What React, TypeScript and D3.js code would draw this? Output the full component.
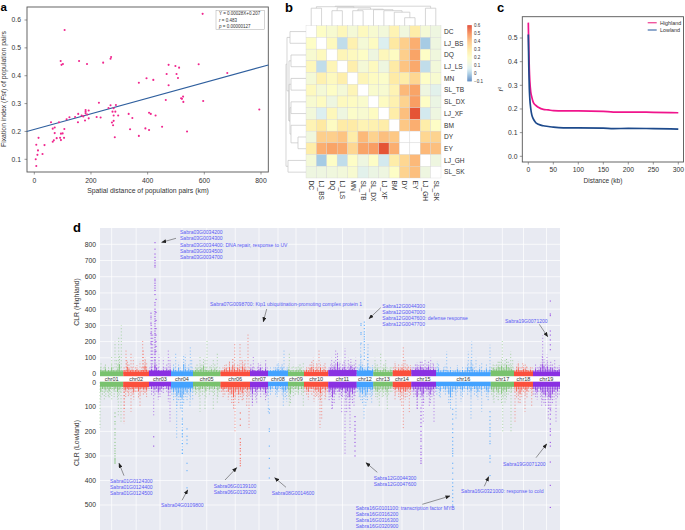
import React from "react";
import * as d3 from "d3";

const FONT = "'Liberation Sans', Arial, sans-serif";

// ---------- panel a ----------
const distanceKm = [594,107,93,96,101,158,186,243,271,269,474,498,511,580,681,502,467,507,396,420,369,474,464,518,521,525,526,596,794,228,269,288,262,280,276,286,181,192,181,155,187,181,280,296,333,346,405,411,428,167,173,144,124,114,220,234,192,179,154,59,87,280,274,278,451,392,405,338,369,539,284,65,72,106,72,94,100,79,91,105,94,65,69,15,36,7,13,29,11,5,7];
const fstValues = [.622,.564,.453,.439,.442,.453,.442,.447,.467,.461,.439,.435,.429,.441,.41,.406,.406,.392,.391,.385,.375,.366,.313,.319,.317,.325,.306,.309,.279,.303,.294,.295,.284,.283,.271,.271,.277,.275,.271,.263,.261,.265,.257,.257,.263,.248,.267,.263,.257,.257,.254,.252,.251,.244,.252,.25,.247,.239,.233,.233,.233,.238,.232,.222,.217,.211,.205,.208,.184,.2,.179,.21,.214,.209,.194,.192,.193,.176,.177,.177,.169,.163,.168,.177,.151,.152,.132,.119,.116,.1,.076];
const fitLineX = [-27, 826];
const fitLineY = [0.2, 0.4385];
const aXTicks = [0, 200, 400, 600, 800];
const aYTicks = [0.1, 0.2, 0.3, 0.4, 0.5, 0.6];

// ---------- panel b ----------
const popLabels = ["DC","LJ_BS","DQ","LJ_LS","MN","SL_TB","SL_DX","LJ_XF","BM","DY","EY","LJ_GH","SL_SK"];
const N = NaN;
const fstMatrix = [
  [N,.2,.17,.23,.15,.22,.17,.14,.25,.13,.28,.15,.12],
  [.2,N,.22,.03,.26,.15,.21,.06,.3,.37,.44,0,.12],
  [.17,.22,N,.24,.22,.2,.12,.23,.21,.37,.46,.2,.13],
  [.23,.03,.24,N,.27,.15,.22,.12,.29,.4,.45,.03,.14],
  [.15,.26,.22,.27,N,.24,.21,.19,.29,.28,.35,.2,.17],
  [.22,.15,.2,.15,.24,N,.18,.17,.25,.42,.46,.12,.08],
  [.17,.21,.12,.22,.21,.18,N,.21,.26,.36,.47,.2,.11],
  [.14,.06,.23,.12,.19,.17,.21,N,.28,.41,.58,.05,.12],
  [.25,.3,.21,.29,.29,.25,.26,.28,N,.39,.44,.28,.2],
  [.13,.37,.37,.4,.28,.42,.36,.41,.39,N,N,.35,.36],
  [.28,.44,.46,.45,.35,.46,.47,.58,.44,N,N,.42,.41],
  [.15,0,.2,.03,.2,.12,.2,.05,.28,.35,.42,N,.12],
  [.12,.12,.13,.14,.17,.08,.11,.12,.2,.36,.41,.12,N],
];
const legendTicks = [-0.1, 0, 0.1, 0.2, 0.3, 0.4, 0.5, 0.6];
const colorStops = [-0.1, 0, 0.06, 0.12, 0.2, 0.3, 0.4, 0.5, 0.6];
const colorRamp = ["#4f7fbd","#a6cbe4","#dceff0","#eef6e0","#fdfdc6","#fee9a2","#fdc482","#f78e55","#e0452d"];
// merges: [left node, right node, height]; nodes 0-12 are leaves, later ones are earlier merges
const colMerges = [[9,10,8],[8,13,13.5],[7,14,15],[6,15,16],[4,5,15],[2,3,15],[17,16,16.5],[18,19,18],[11,12,17.5],[0,1,17.5],[22,20,19],[23,21,19.5]];
const rowMerges = [[9,10,8],[8,13,15],[6,7,15],[4,5,15],[2,3,15],[15,14,16],[16,18,17],[17,18,17],[0,1,16],[11,12,18],[21,20,19],[23,22,20]];

// ---------- panel c ----------
const ldDistance = [0,1,2,3,5,7,10,15,20,30,40,50,70,100,150,170,200,250,300];
const ldHighland = [.565,.45,.37,.32,.27,.25,.228,.215,.207,.198,.196,.193,.192,.192,.19,.187,.187,.186,.184];
const ldLowland = [.515,.38,.29,.245,.2,.175,.158,.142,.135,.129,.126,.123,.12,.12,.119,.117,.118,.117,.115];
const cXTicks = [0, 50, 100, 150, 200, 250, 300];
const cYTicks = [0, 0.1, 0.2, 0.3, 0.4, 0.5];

// ---------- panel d ----------
const chrNames = ["chr01","chr02","chr03","chr04","chr05","chr06","chr07","chr08","chr09","chr10","chr11","chr12","chr13","chr14","chr15","chr16","chr17","chr18","chr19"];
const chrLengths = [23.3,25.7,22,22,27.5,29.5,18,20,16,24.3,28.4,16.6,19.4,18.6,24.7,54.7,23.3,19,27];
const chrColors = ["#79c26e","#fb4f3c","#8a30e2","#43a2ff"];
const upperTicks = [0,100,200,300,400,500,600,700,800];
const lowerTicks = [0,100,200,300,400,500];
const highBand = [16,14,20,16,14,14,18,18,13,13,24,20,12,20,24,11,20,15,15];
const lowBand = [18,20,16,22,16,20,20,15,15,18,22,20,16,20,18,15,18,18,18];
const highProfile = [
  [50,35,40,60,30,45,35,70,45,30,35,60,110,40,30],
  [45,30,80,60,35,50,30,45,55,35,30,45,40,90,50,35],
  [40,55,30,100,70,45,30,35,50,40,60,35,55],
  [35,60,45,30,70,40,35,110,55,40,60,35,45],
  [35,45,60,40,55,65,90,50,45,35,40,55,35,60,45,30,40],
  [30,40,55,65,40,75,50,95,60,45,70,55,40,85,60,50,35,45],
  [60,50,45,35,40,55,70,45,35,60,40],
  [35,40,30,45,50,60,55,40,65,45,35,50],
  [55,35,45,30,40,50,35,60,40,30],
  [35,50,40,65,80,55,45,60,40,70,45,55,40,35],
  [50,70,55,85,60,130,70,50,60,80,55,40,60,90,55,70,45],
  [45,60,90,70,55,50,65,45,40,55],
  [40,55,60,45,35,40,60,55,40,35,50,45],
  [40,55,45,60,50,70,55,40,60,45,55],
  [50,45,60,70,55,85,75,60,50,70,85,55,45,60,50],
  [40,60,35,30,50,25,40,30,45,25,35,30,55,35,25,45,30,40,70,45,80,60,40,30,35,55,40,30,35,60,30,50],
  [45,70,55,60,85,75,90,70,60,100,80,65,55,40],
  [35,50,65,45,40,55,60,45,35,50,40],
  [35,60,45,50,70,110,90,60,85,55,75,65,50,45,40,55],
];
const lowProfile = [
  [70,50,45,60,40,65,50,35,60,45,70,55,40,35],
  [40,60,45,55,35,50,70,40,45,65,50,40,55,45,60,35],
  [35,50,40,55,45,70,60,45,35,30,45,55,40],
  [55,75,60,100,80,110,120,90,60,80,50,70,45],
  [40,55,35,60,45,50,40,65,35,55,45,40,50,35,60,40],
  [45,60,50,40,70,55,85,110,70,55,90,60,80,55,45,60,50],
  [60,85,50,70,55,45,60,40,55,80,50],
  [40,55,45,30,50,60,40,35,55,70,60,45],
  [60,85,45,35,50,40,55,35,50,40],
  [40,55,70,45,50,40,60,55,70,80,50,45,60,40],
  [75,60,110,85,55,40,70,55,60,45,80,65,110,70,85,55,40],
  [40,60,75,85,60,100,75,50,60,55],
  [45,60,70,55,40,60,45,55,70,50,45,40],
  [35,55,45,60,75,50,65,70,60,45,55],
  [40,60,50,110,55,65,100,85,45,60,55,90,60,50,40],
  [50,35,65,30,45,55,40,85,110,70,45,55,40,35,50,60,45,30,55,40,65,35,50,45,70,40,55,30,45,60,75,40],
  [55,70,45,60,75,50,85,65,55,70,50,45,40,35],
  [40,65,50,85,60,40,55,65,40,35,50],
  [50,60,70,45,60,75,90,100,70,110,120,85,70,55,65,50],
];
const highStems = [
  [1,65],[5,50],[11.7,110],[15,200],[16.7,100],[18.7,235],[21.3,300],[26,155],[26.7,85],[31,135],[33.3,100],[40,80],[42.7,215],[43.3,150],[45.3,100],[46.7,70],
  [51,375],[51.7,300],[52.7,250],[54.5,110],[55.5,110],[59,120],[63.3,100],[68.3,155],[70,100],[75.7,130],[85.3,120],[90.3,175],[91.7,90],[100,110],[105,100],[107,215],[110,60],[113.3,90],[117.3,125],
  [129.3,80],[134.7,195],[140,190],[142,100],[145,90],[148,245],[153.3,105],[158.3,70],[165.7,95],[178.3,80],[184,155],[181.7,60],[189.3,125],[193.3,60],[198.3,60],[203.3,70],[213.3,100],[219,155],[216.7,80],[225,70],
  [231.7,100],[235.7,150],[240,80],[245,160],[248.3,100],[251.7,60],[255.7,100],[260.7,190],[268,190],[267.7,130],[268.3,60],[275,100],[280.7,130],[285.7,85],[295,80],[303.3,170],[305,90],[308.3,50],[317.3,60],[325,85],[330.7,100],[333,70],
  [337.3,80],[346.7,140],[345,60],[368.3,140],[371.7,200],[371,100],[376,100],[381.7,70],[390,180],[402.3,215],[405,90],[410.7,140],[412.7,90],[416.7,60],[418.3,80],[422.7,70],[426.7,50],[440,60],[442.7,240],[447,120],[454.7,90],[459,40],
];
const highPeaks = [
  [55,[810,770,740,720,700,685,670,660,585,575,560,545,530,515,490,440,425,400,385,370,355,340,325,310,295,280,265,250,240,225,210,195,180,165,150,140,130,120]],
  [56,[460,380,330,280,240,200,170,140]],
  [51,[375,350,310,250,190]],
  [261,[310,300,255,245,190,110]],
  [264.3,[320,300,280,260,245,230,215,200,180,165,150,130,110,90]],
  [450.3,[450,370,360,265,240,210,180,150]],
];
const lowStems = [
  [0,185],[4.3,70],[8.3,60],[11.7,70],[18.3,140],[21,160],[24,170],[24.3,115],[31,120],[40,100],[28.3,60],[33.3,50],[45,50],[53.7,140],[58.3,50],[68.3,80],[70,160],[63.3,50],
  [76.7,230],[82.3,290],[90,100],[92.7,70],[100,120],[105,110],[113.3,110],[117.3,90],[96.7,50],[135,205],[149,185],[146.7,100],[130,50],[143.3,70],[152.3,100],[156.7,90],[168.3,125],[166.7,60],
  [183.3,100],[186.7,80],[176.7,50],[189.3,95],[193.3,60],[203.3,95],[198.3,50],[214,80],[220,185],[221.7,150],[225,70],[216.7,60],[231.7,110],[246.7,130],[250,200],[254,100],[241.7,60],
  [241.7,130],[245,300],[255,60],[264,150],[260,60],[271.7,90],[279.3,100],[287.3,115],[283.3,60],[295,70],[303.3,190],[309.3,130],[301.7,100],[317.3,110],[323.3,170],[334,165],[329.3,100],
  [339.3,60],[356,150],[361,80],[371,150],[381.7,120],[376.7,60],[394,90],[402.7,205],[411,200],[405,90],[398.3,50],[415,160],[418.3,90],[425,120],[431.7,100],[441.7,100],[448.3,150],[456,160],[436.7,50],
];
const lowPeaks = [
  [15,[330,325,320,315,310,300,290,280,270,258,245,230,215,205,190,170,160,140,125]],
  [53.7,[260,222]],
  [87,[430,360,330,250,235,220,190]],
  [82.3,[290,275,250,220,210,195,170,150]],
  [140.3,[340,330,320,310,295,280,270,255,245,230,175,150,125]],
  [169.3,[390,350,310,260,200,190,125,110]],
  [255,[300,280,260,245,230,215,200,190,175,160,140]],
  [321,[330,320,310,295,285,270,260,240,230,215,200,180,165,150,135,120,105]],
  [352.7,[500,485,470,455,440,425,410,395,370,350,330,300,290,280,270,255,240,225,205,190,170,150,130,110]],
  [390,[380,325,310,300,250,240,220,210,195,185,170,155,140,120]],
  [450.3,[510,420,325,260,245,215,200,190,170,150,130,110]],
];

const annotations = [
  { x: 180, y: 232.3, lines: ["Sabra03G0034200","Sabra03G0034300","Sabra03G0034400: DNA repair, response to UV","Sabra03G0034500","Sabra03G0034700"], arrow: [176,238.3,161.7,242.3] },
  { x: 210, y: 303.7, lines: ["Sabra07G0098700: Kip1 ubiquitination-promoting complex protein 1"], arrow: [266.7,309,263.3,321.7] },
  { x: 382.3, y: 306, lines: ["Sabra12G0044300","Sabra12G0047000","Sabra12G0047600: defense response","Sabra12G0047700"], arrow: [380.7,307.7,369,318.7] },
  { x: 505, y: 321, lines: ["Sabra19G0071200"], arrow: [539.3,324.3,547.7,336.7] },
  { x: 110, y: 480.7, lines: ["Sabra01G0124300","Sabra01G0124400","Sabra01G0124500"], arrow: [124,475.7,119,463.3] },
  { x: 161, y: 505, lines: ["Sabra04G0109800"], arrow: [182,500.3,187.7,490] },
  { x: 213.7, y: 486, lines: ["Sabra06G0139100","Sabra06G0139200"], arrow: [225,480,236.7,467.7] },
  { x: 271.7, y: 493, lines: ["Sabra08G0014600"], arrow: [286,487.3,274.7,477.7] },
  { x: 373.7, y: 478.3, lines: ["Sabra12G0044300","Sabra12G0047600"], arrow: [377.3,472.3,366,462.7] },
  { x: 355.7, y: 508, lines: ["Sabra16G0101100: transcription factor MYB","Sabra16G0316200","Sabra16G0316300","Sabra16G0320900"], arrow: [422.3,504.3,450,496] },
  { x: 461, y: 491, lines: ["Sabra16G0321000: response to cold"], arrow: [484.3,486.3,488.7,476.7] },
  { x: 503, y: 464, lines: ["Sabra19G0071200"], arrow: [536,457.7,546.7,444] },
];

const AX = "#555";
const TXT = "#333";
const TICK = 6.8;

function Frame({ x0, x1, y0, y1 }: any) {
  return <rect x={x0} y={y0} width={x1 - x0} height={y1 - y0} fill="none" stroke={AX} strokeWidth={0.9} />;
}

function PanelA() {
  const x = d3.scaleLinear().domain([0, 800]).range([34.3, 261]);
  const y = d3.scaleLinear().domain([0.1, 0.6]).range([159.3, 20]);
  const line = d3.line<number>().x((d) => x(d)).y((_, i) => y(fitLineY[i]));
  return (
    <g fontFamily={FONT} fill={TXT}>
      <Frame x0={27} x1={268.3} y0={7} y1={172} />
      {aXTicks.map((t) => (
        <g key={t}>
          <line x1={x(t)} x2={x(t)} y1={172} y2={174.5} stroke={AX} strokeWidth={0.6} />
          <text x={x(t)} y={182.5} fontSize={TICK} textAnchor="middle">{t}</text>
        </g>
      ))}
      {aYTicks.map((t) => (
        <g key={t}>
          <line x1={24.5} x2={27} y1={y(t)} y2={y(t)} stroke={AX} strokeWidth={0.6} />
          <text x={21} y={y(t) + 2.4} fontSize={TICK} textAnchor="end">{t.toFixed(1)}</text>
        </g>
      ))}
      <path d={line(fitLineX) || ""} fill="none" stroke="#2f5f9e" strokeWidth={1.1} />
      {distanceKm.map((d, i) => (
        <circle key={i} cx={x(d)} cy={y(fstValues[i])} r={1.05} fill="#f0268e" />
      ))}
      <rect x={216} y={10.7} width={48.3} height={18.6} fill="#fff" stroke="#aaa" strokeWidth={0.5} />
      <text x={219} y={15.4} fontSize={4.5}>Y = 0.00028X+0.207</text>
      <text x={219} y={21.6} fontSize={4.5}><tspan fontStyle="italic">r</tspan> = 0.483</text>
      <text x={219} y={27.6} fontSize={4.5}><tspan fontStyle="italic">p</tspan> = 0.00000127</text>
      <text x={148} y={193} fontSize={6.85} textAnchor="middle">Spatial distance of population pairs (km)</text>
      <text transform="translate(6,89) rotate(-90)" fontSize={6.85} textAnchor="middle">
        Fixation index (<tspan fontStyle="italic">Fst</tspan>) of population pairs
      </text>
    </g>
  );
}

function dendrogram(merges: number[][], leafPos: (i: number) => number) {
  const nodes: { p: number; h: number }[] = popLabels.map((_, i) => ({ p: leafPos(i), h: 0 }));
  const segs: { a: number; ah: number; b: number; bh: number; h: number }[] = [];
  merges.forEach(([l, r, h]) => {
    const L = nodes[l];
    const R = nodes[r];
    segs.push({ a: L.p, ah: L.h, b: R.p, bh: R.h, h });
    nodes.push({ p: (L.p + R.p) / 2, h });
  });
  return segs;
}

function PanelB() {
  const x = d3.scaleBand<number>().domain(d3.range(13)).range([306, 441]);
  const y = d3.scaleBand<number>().domain(d3.range(13)).range([25.7, 178]);
  const color = d3.scaleLinear<string>().domain(colorStops).range(colorRamp);
  const legY = d3.scaleLinear().domain([-0.1, 0.6]).range([81.2, 25.7]);
  const colSegs = dendrogram(colMerges, (i) => x(i)! + x.bandwidth() / 2);
  const rowSegs = dendrogram(rowMerges, (i) => y(i)! + y.bandwidth() / 2);
  const ramp = d3.range(0, 56);
  return (
    <g fontFamily={FONT} fill={TXT}>
      {fstMatrix.map((row, r) =>
        row.map((v, c) => (
          <rect key={r + "-" + c} x={x(c)} y={y(r)} width={x.bandwidth()} height={y.bandwidth()}
            fill={Number.isNaN(v) ? "#fff" : color(v)} stroke="#d4d4d4" strokeWidth={0.35} />
        ))
      )}
      {colSegs.map((s, i) => (
        <path key={i} d={`M${s.a},${25.7 - s.ah}V${25.7 - s.h}H${s.b}V${25.7 - s.bh}`} fill="none" stroke="#c4c4c4" strokeWidth={0.7} />
      ))}
      {rowSegs.map((s, i) => (
        <path key={i} d={`M${306 - s.ah},${s.a}H${306 - s.h}V${s.b}H${306 - s.bh}`} fill="none" stroke="#c4c4c4" strokeWidth={0.7} />
      ))}
      {popLabels.map((l, i) => (
        <g key={l}>
          <text x={444} y={y(i)! + y.bandwidth() / 2 + 2.3} fontSize={6.6}>{l}</text>
          <text transform={`translate(${x(i)! + x.bandwidth() / 2 - 2.2},180.5) rotate(90)`} fontSize={6.6}>{l}</text>
        </g>
      ))}
      {ramp.map((k) => {
        const v = legY.invert(81.2 - k - 0.5);
        return <rect key={k} x={467.3} y={81.2 - k - 1} width={4.5} height={1.2} fill={color(v)} />;
      })}
      {legendTicks.map((t) => (
        <text key={t} x={474} y={legY(t) + 1.6} fontSize={4.5}>{t === -0.1 ? "−0.1" : String(t)}</text>
      ))}
    </g>
  );
}

function PanelC() {
  const x = d3.scaleLinear().domain([0, 300]).range([528.3, 678.3]);
  const y = d3.scaleLinear().domain([0, 0.5]).range([156.3, 38]);
  const path = (vals: number[]) =>
    d3.line<number>().x((_, i) => x(ldDistance[i])).y((d) => y(d)).curve(d3.curveMonotoneX)(vals) || "";
  return (
    <g fontFamily={FONT} fill={TXT}>
      <Frame x0={522.3} x1={683.5} y0={16.7} y1={162} />
      {cXTicks.map((t) => (
        <g key={t}>
          <line x1={x(t)} x2={x(t)} y1={162} y2={164.5} stroke={AX} strokeWidth={0.6} />
          <text x={x(t)} y={172.3} fontSize={TICK} textAnchor="middle">{t}</text>
        </g>
      ))}
      {cYTicks.map((t) => (
        <g key={t}>
          <line x1={519.8} x2={522.3} y1={y(t)} y2={y(t)} stroke={AX} strokeWidth={0.6} />
          <text x={517.5} y={y(t) + 2.4} fontSize={TICK} textAnchor="end">{t.toFixed(1)}</text>
        </g>
      ))}
      <path d={path(ldHighland)} fill="none" stroke="#f0148c" strokeWidth={1.7} />
      <path d={path(ldLowland)} fill="none" stroke="#1d4a8c" strokeWidth={1.7} />
      <line x1={647.7} x2={656.7} y1={22.7} y2={22.7} stroke="#f0569f" strokeWidth={1.4} />
      <line x1={647.7} x2={656.7} y1={30} y2={30} stroke="#5f85b8" strokeWidth={1.4} />
      <text x={660} y={24.7} fontSize={5.4}>Highland</text>
      <text x={660} y={32} fontSize={5.4}>Lowland</text>
      <text x={603} y={183} fontSize={6.6} textAnchor="middle">Distance (kb)</text>
      <text transform="translate(502.5,89) rotate(-90)" fontSize={6.6} textAnchor="middle">
        <tspan fontStyle="italic">r</tspan><tspan fontSize={4.2} dy={-2}>2</tspan>
      </text>
    </g>
  );
}

function PanelD() {
  const x = d3.scaleLinear().domain([0, 460]).range([100, 560]);
  const yU = d3.scaleLinear().domain([0, 800]).range([374, 244.3]);
  const yL = d3.scaleLinear().domain([0, 500]).range([382.3, 505]);
  const starts = d3.cumsum([0, ...chrLengths]);
  const colorAt = (p: number) => {
    const i = Math.min(18, Math.max(0, d3.bisectRight(Array.from(starts), p) - 1));
    return chrColors[i % 4];
  };
  const centers = chrLengths.map((l, i) => starts[i] + l / 2);

  const panel = (
    y: d3.ScaleLinear<number, number>,
    top: number,
    bottom: number,
    ticks: number[],
    band: number[],
    profile: number[][],
    stems: number[][],
    peaks: any[],
    flip: boolean,
    keyP: string
  ) => {
    const edge = flip ? top : bottom;
    return (
      <g key={keyP}>
        <rect x={100} y={top} width={460} height={bottom - top} fill="#e8eaf2" />
        {ticks.map((t) => (
          <line key={t} x1={100} x2={560} y1={y(t)} y2={y(t)} stroke="#fff" strokeWidth={0.7} />
        ))}
        {centers.map((c, i) => (
          <line key={i} x1={x(c)} x2={x(c)} y1={top} y2={bottom} stroke="#fff" strokeWidth={0.7} />
        ))}
        {stems.map(([p, v], i) => (
          <line key={"s" + i} x1={x(p)} x2={x(p)} y1={y(0)} y2={y(v)} stroke={colorAt(p)} strokeWidth={0.9} strokeDasharray="1 2.2" opacity={0.65} />
        ))}
        {profile.map((vals, i) =>
          vals.map((v, k) => {
            const px = x(starts[i] + ((k + 0.5) / vals.length) * chrLengths[i]);
            return (
              <g key={i + "p" + k} stroke={chrColors[i % 4]} strokeWidth={0.95}>
                <line x1={px} x2={px} y1={y(0)} y2={y(v)} strokeDasharray="1 1.8" opacity={0.7} />
                <line x1={px} x2={px} y1={y(0)} y2={y(v * 0.55)} opacity={0.85} />
              </g>
            );
          })
        )}
        {peaks.map(([p, vals]: any, i: number) =>
          vals.map((v: number, k: number) => (
            <rect key={"k" + i + "-" + k} x={x(p) - 0.55} y={y(v) - 0.55} width={1.1} height={1.1} fill={colorAt(p)} opacity={0.85} />
          ))
        )}
        {chrLengths.map((l, i) => {
          const b = y(band[i]);
          return (
            <rect key={"b" + i} x={x(starts[i])} width={x(starts[i] + l) - x(starts[i])}
              y={Math.min(b, edge)} height={Math.abs(b - edge)} fill={chrColors[i % 4]} />
          );
        })}
        {ticks.map((t) => (
          <text key={"t" + t} x={96} y={y(t) + 2.4} fontSize={TICK} textAnchor="end" fill={TXT}>{t}</text>
        ))}
      </g>
    );
  };

  return (
    <g fontFamily={FONT}>
      {panel(yU, 228, 376.2, upperTicks, highBand, highProfile, highStems, highPeaks, false, "u")}
      {panel(yL, 381.7, 530, lowerTicks, lowBand, lowProfile, lowStems, lowPeaks, true, "l")}
      {chrNames.map((c, i) => (
        <text key={c} x={x(centers[i])} y={381} fontSize={5.5} textAnchor="middle" fill={TXT}>{c}</text>
      ))}
      <text transform="translate(79,302) rotate(-90)" fontSize={6.9} textAnchor="middle" fill={TXT}>CLR (Highland)</text>
      <text transform="translate(79,443) rotate(-90)" fontSize={6.9} textAnchor="middle" fill={TXT}>CLR (Lowland)</text>
      <defs>
        <marker id="ah" markerWidth={5} markerHeight={4} refX={4.5} refY={2} orient="auto" markerUnits="userSpaceOnUse">
          <path d="M0,0L5,2L0,4Z" fill="#222" />
        </marker>
      </defs>
      {annotations.map((a, i) => (
        <g key={i}>
          <line x1={a.arrow[0]} y1={a.arrow[1]} x2={a.arrow[2]} y2={a.arrow[3]} stroke="#333" strokeWidth={0.5} markerEnd="url(#ah)" />
          {a.lines.map((t, k) => (
            <text key={k} x={a.x} y={a.y + k * 6.2 + 1.8} fontSize={5.05} fill="#5a5af5">{t}</text>
          ))}
        </g>
      ))}
    </g>
  );
}

export default function App() {
  return (
    <svg width={685} height={530} viewBox="0 0 685 530" style={{ position: "fixed", left: 0, top: 0, background: "#fff" }}>
      <PanelA />
      <PanelB />
      <PanelC />
      <PanelD />
      <g fontFamily={FONT} fontWeight="bold" fill="#000">
        <text x={0.5} y={10.5} fontSize={11.5}>a</text>
        <text x={285} y={12} fontSize={13}>b</text>
        <text x={497} y={12} fontSize={13}>c</text>
        <text x={73} y={231.5} fontSize={13}>d</text>
      </g>
    </svg>
  );
}
